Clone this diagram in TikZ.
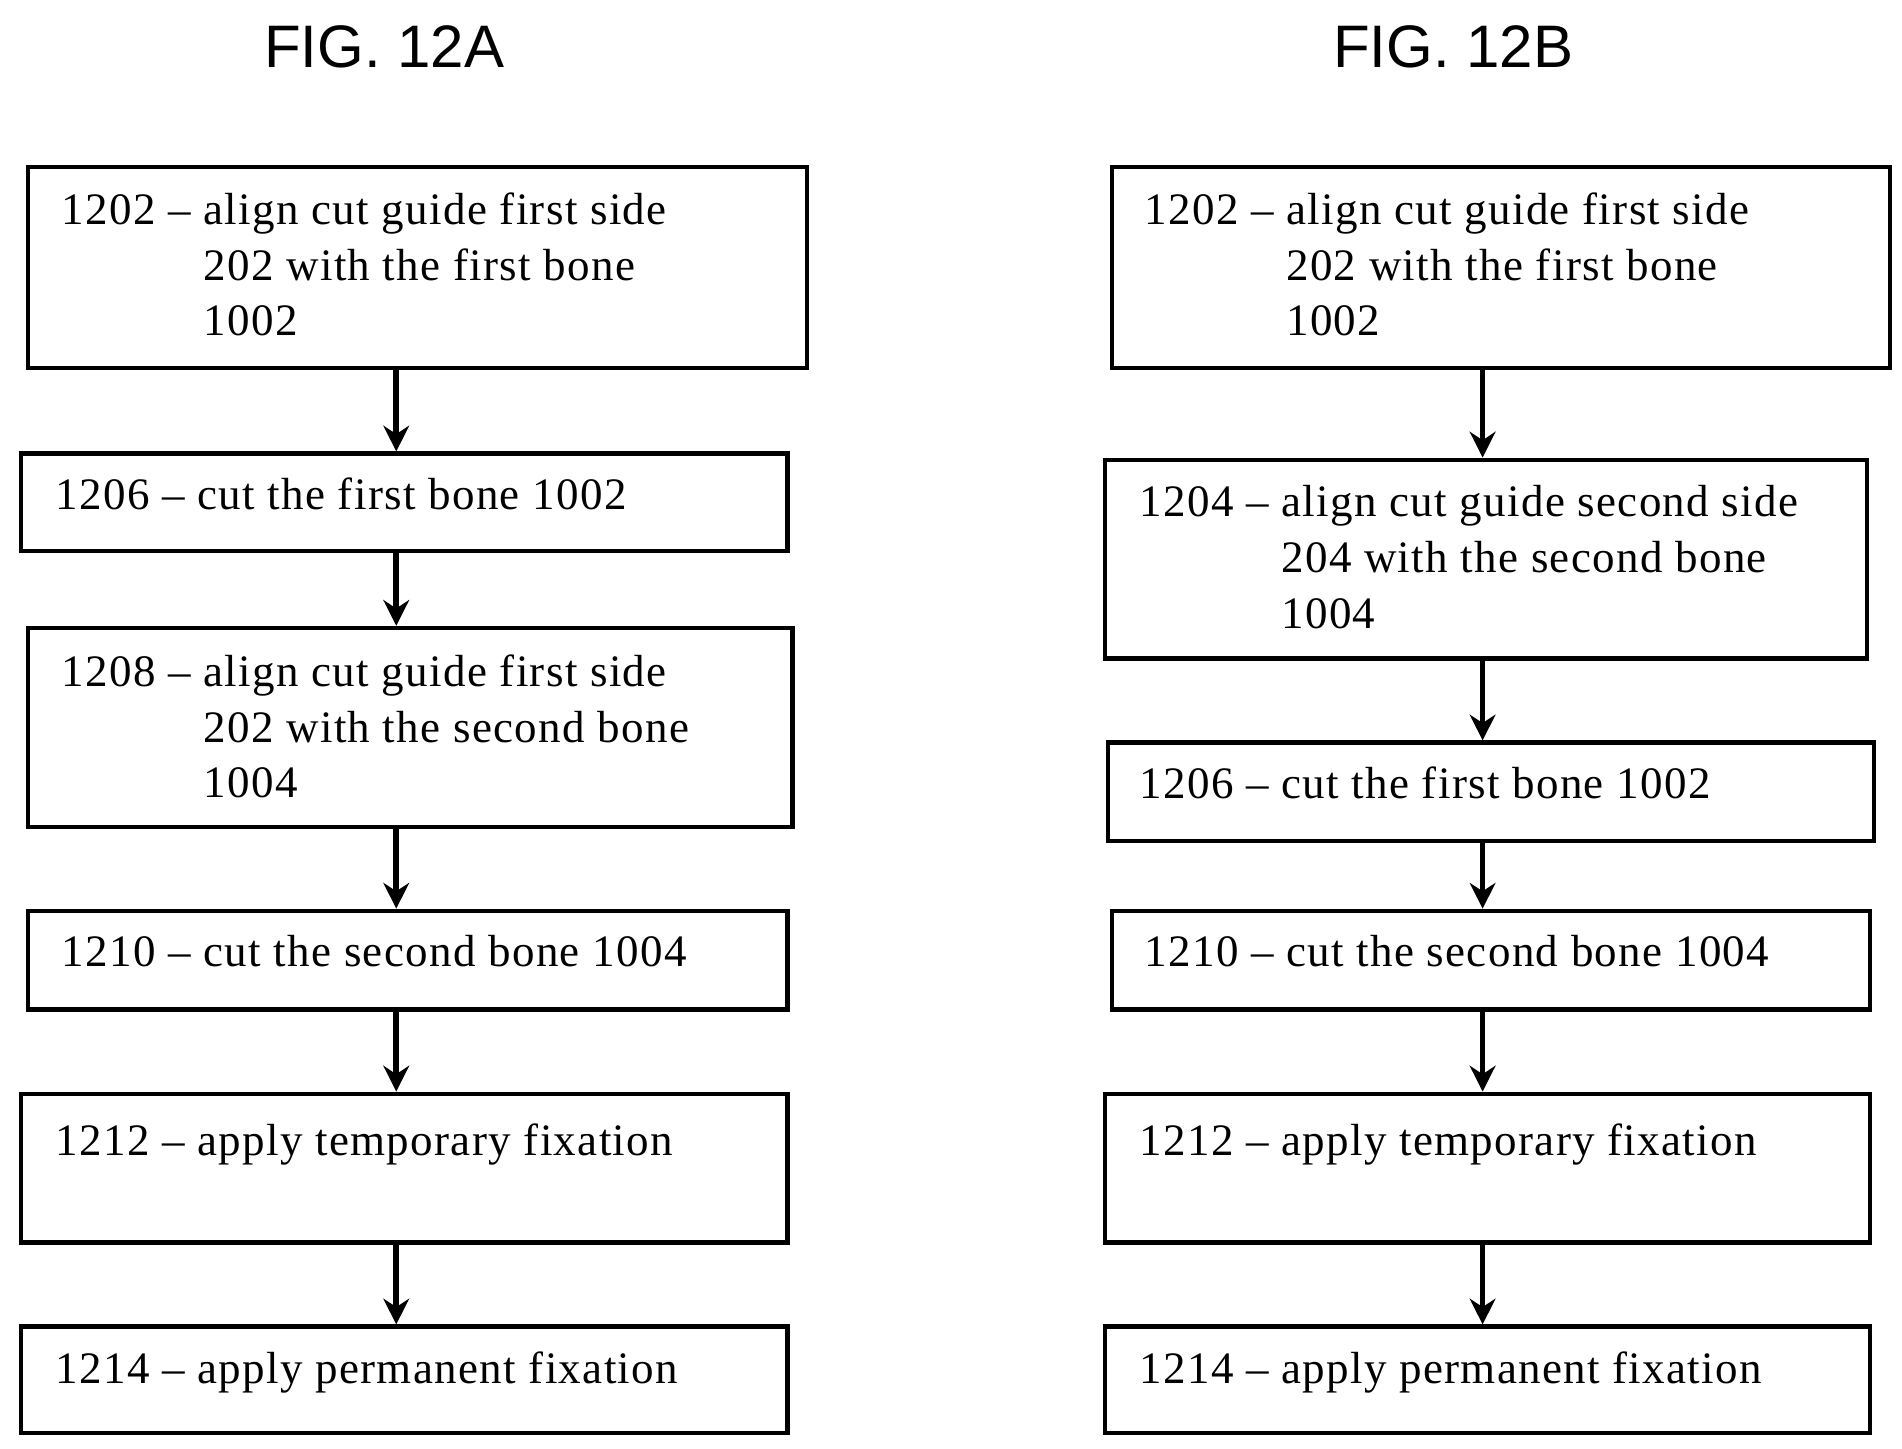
\documentclass[tikz,border=0pt]{standalone}
\usepackage{fontspec}
\setmainfont{Liberation Serif}[LetterSpace=3]
\newfontfamily\figfont{Liberation Sans}
\usetikzlibrary{arrows.meta}

\begin{document}
\begin{tikzpicture}
  [box/.style={draw,line width=1pt,inner sep=0pt},
   txt/.style={anchor=base west,inner sep=0pt,font=\fontsize{10.5}{13}\selectfont},
   ttl/.style={font=\figfont\fontsize{14}{16}\selectfont},
   arr/.style={line width=1.3pt,-{Stealth[length=6pt,width=6pt]}}]
\useasboundingbox (0,0) rectangle (15.6,-11.88);

\node [ttl] (ta) at (3.15,-0.38) {FIG. 12A};
\node [ttl] (tb) at (11.92,-0.38) {FIG. 12B};

% left column
\node [box,minimum width=6.39cm,minimum height=1.65cm] (a1) at (3.425,-2.195) {};
\node [box,minimum width=6.29cm,minimum height=0.80cm] (a2) at (3.315,-4.12) {};
\node [box,minimum width=6.27cm,minimum height=1.63cm] (a3) at (3.365,-5.965) {};
\node [box,minimum width=6.23cm,minimum height=0.81cm] (a4) at (3.345,-7.875) {};
\node [box,minimum width=6.29cm,minimum height=1.22cm] (a5) at (3.315,-9.58) {};
\node [box,minimum width=6.29cm,minimum height=0.87cm] (a6) at (3.315,-11.315) {};

\node [txt] (la1) at (0.50,-1.84) {\begin{tabular}[t]{@{}l@{ }l@{}}1202 -- & align cut guide first side\\ & 202 with the first bone\\ & 1002\end{tabular}};
\node [txt] (la2) at (0.45,-4.18) {1206 -- cut the first bone 1002};
\node [txt] (la3) at (0.50,-5.63) {\begin{tabular}[t]{@{}l@{ }l@{}}1208 -- & align cut guide first side\\ & 202 with the second bone\\ & 1004\end{tabular}};
\node [txt] (la4) at (0.50,-7.93) {1210 -- cut the second bone 1004};
\node [txt] (la5) at (0.45,-9.48) {1212 -- apply temporary fixation};
\node [txt] (la6) at (0.45,-11.35) {1214 -- apply permanent fixation};

% right column
\node [box,minimum width=6.38cm,minimum height=1.65cm] (b1) at (12.31,-2.195) {};
\node [box,minimum width=6.25cm,minimum height=1.63cm] (b2) at (12.185,-4.585) {};
\node [box,minimum width=6.28cm,minimum height=0.81cm] (b3) at (12.23,-6.495) {};
\node [box,minimum width=6.22cm,minimum height=0.81cm] (b4) at (12.23,-7.875) {};
\node [box,minimum width=6.28cm,minimum height=1.22cm] (b5) at (12.20,-9.58) {};
\node [box,minimum width=6.28cm,minimum height=0.87cm] (b6) at (12.20,-11.315) {};

\node [txt] (lb1) at (9.38,-1.84) {\begin{tabular}[t]{@{}l@{ }l@{}}1202 -- & align cut guide first side\\ & 202 with the first bone\\ & 1002\end{tabular}};
\node [txt] (lb2) at (9.34,-4.24) {\begin{tabular}[t]{@{}l@{ }l@{}}1204 -- & align cut guide second side\\ & 204 with the second bone\\ & 1004\end{tabular}};
\node [txt] (lb3) at (9.34,-6.55) {1206 -- cut the first bone 1002};
\node [txt] (lb4) at (9.38,-7.93) {1210 -- cut the second bone 1004};
\node [txt] (lb5) at (9.34,-9.48) {1212 -- apply temporary fixation};
\node [txt] (lb6) at (9.34,-11.35) {1214 -- apply permanent fixation};

\coordinate (xa) at (3.25,0);
\coordinate (xb) at (12.16,0);
\foreach \i/\j in {1/2,2/3,3/4,4/5,5/6} {
  \draw [arr] (a\i.south -| xa) -- (a\j.north -| xa);
  \draw [arr] (b\i.south -| xb) -- (b\j.north -| xb);
}
\end{tikzpicture}
\end{document}
